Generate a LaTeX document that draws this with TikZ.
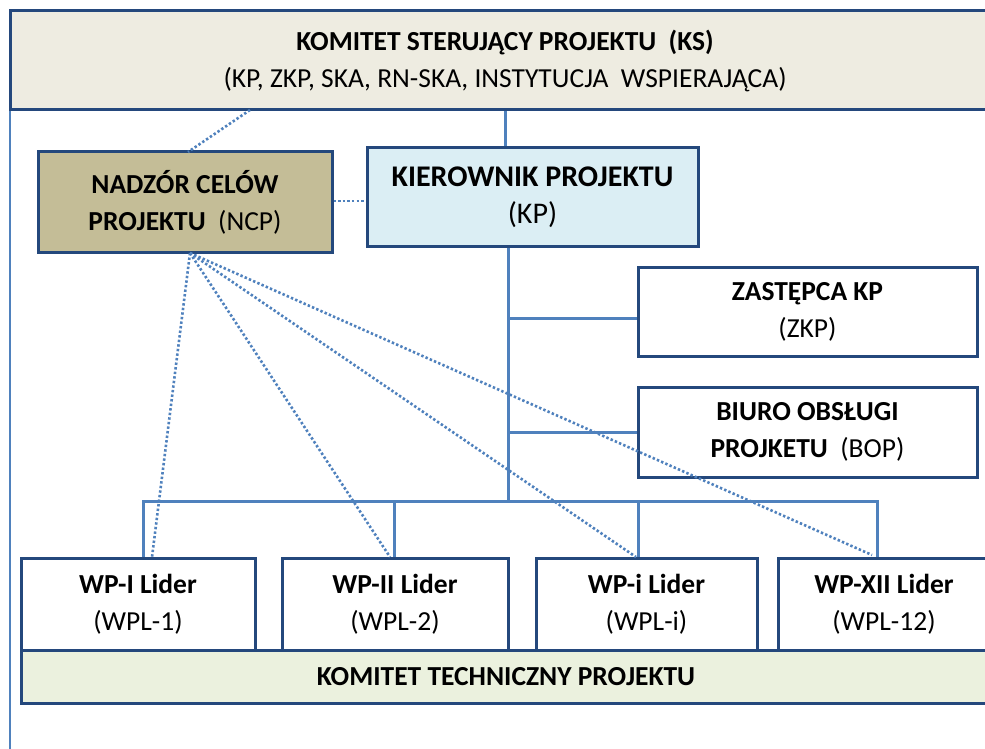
\documentclass[tikz,border=0pt]{standalone}
\usepackage{fontspec}
\setmainfont{Carlito}
\definecolor{bdr}{RGB}{36,72,124}
\definecolor{lnk}{RGB}{79,129,189}
\definecolor{ksfill}{RGB}{238,236,225}
\definecolor{ncpfill}{RGB}{196,189,151}
\definecolor{kpfill}{RGB}{219,238,244}
\definecolor{ktpfill}{RGB}{235,241,222}
\begin{document}
\begin{tikzpicture}[x=1pt,y=-1pt,
  box/.style={draw=bdr,line width=3pt,rectangle,inner sep=0pt,align=center,
    font=\fontsize{27.5}{37}\selectfont,text=black},
  link/.style={draw=lnk,line width=3pt},
  dotlink/.style={draw=lnk,line width=2.6pt,dash pattern=on 2.4pt off 2.2pt}]
\clip (0,0) rectangle (985,749);
\fill[white] (0,0) rectangle (985,749);
% left line
\coordinate (l1) at (10,110);
\coordinate (l2) at (10,749);
\draw[draw=lnk,line width=2pt] (l1) -- (l2);
% boxes
\node[box,fill=ksfill,minimum width=990pt,minimum height=99pt] (ks) at (505,60.5)
  {\textbf{KOMITET STERUJĄCY PROJEKTU\ \ (KS)}\\(KP, ZKP, SKA, RN-SKA, INSTYTUCJA\ \ WSPIERAJĄCA)};
\node[box,fill=ncpfill,minimum width=294pt,minimum height=100pt] (ncp) at (185,202)
  {\textbf{NADZÓR CELÓW}\\\textbf{PROJEKTU}\ \ (NCP)};
\node[box,fill=kpfill,minimum width=331pt,minimum height=98pt,font=\fontsize{30}{37}\selectfont] (kp) at (532.5,197)
  {\textbf{KIEROWNIK PROJEKTU}\\(KP)};
\node[box,fill=white,minimum width=339pt,minimum height=89pt] (zkp) at (807.5,311.5)
  {\textbf{ZASTĘPCA KP}\\(ZKP)};
\node[box,fill=white,minimum width=339pt,minimum height=90pt] (bop) at (807.5,432)
  {\textbf{BIURO OBSŁUGI}\\\textbf{PROJKETU}\ \ (BOP)};
\node[box,fill=white,minimum width=234pt,minimum height=92pt] (wp1) at (138,604)
  {\textbf{WP-I Lider}\\(WPL-1)};
\node[box,fill=white,minimum width=226pt,minimum height=92pt] (wp2) at (395,604)
  {\textbf{WP-II Lider}\\(WPL-2)};
\node[box,fill=white,minimum width=221pt,minimum height=92pt] (wpi) at (646.5,604)
  {\textbf{WP-i Lider}\\(WPL-i)};
\node[box,fill=white,minimum width=212pt,minimum height=92pt] (wp12) at (884,604)
  {\textbf{WP-XII Lider}\\(WPL-12)};
\node[box,fill=ktpfill,minimum width=970pt,minimum height=53pt] (ktp) at (506,676.5)
  {\textbf{KOMITET TECHNICZNY PROJEKTU}};
% solid connectors
\coordinate (t1) at (505,0);
\coordinate (t2) at (508,0);
\coordinate (jz) at (508,318);
\coordinate (jb) at (508,432);
\coordinate (bus) at (508,501);
\coordinate (busL) at (143,501);
\coordinate (busR) at (877,501);
\coordinate (d2) at (394,501);
\coordinate (d3) at (638,501);
\draw[link] (ks.south -| t1) -- (kp.north -| t1);
\draw[link] (kp.south -| t2) -- (bus);
\draw[link] (jz) -- (zkp.west |- jz);
\draw[link] (jb) -- (bop.west |- jb);
\draw[link] (wp1.north -| busL) -- (busL) -- (busR) -- (wp12.north -| busR);
\draw[link] (d2) -- (wp2.north -| d2);
\draw[link] (d3) -- (wpi.north -| d3);
% dotted connectors
\coordinate (ksd) at (250,110);
\coordinate (ncpt) at (188,152);
\coordinate (ncpb) at (190,253);
\coordinate (e1) at (152,557);
\coordinate (e2) at (390,557);
\coordinate (e3) at (636,557);
\coordinate (e4) at (872,555);
\coordinate (hy) at (0,201);
\draw[dotlink] (ksd) -- (ncpt);
\draw[dotlink] (ncp.east |- hy) -- (kp.west |- hy);
\draw[dotlink] (ncpb) -- (e1);
\draw[dotlink] (ncpb) -- (e2);
\draw[dotlink] (ncpb) -- (e3);
\draw[dotlink] (ncpb) -- (e4);
\end{tikzpicture}
\end{document}
